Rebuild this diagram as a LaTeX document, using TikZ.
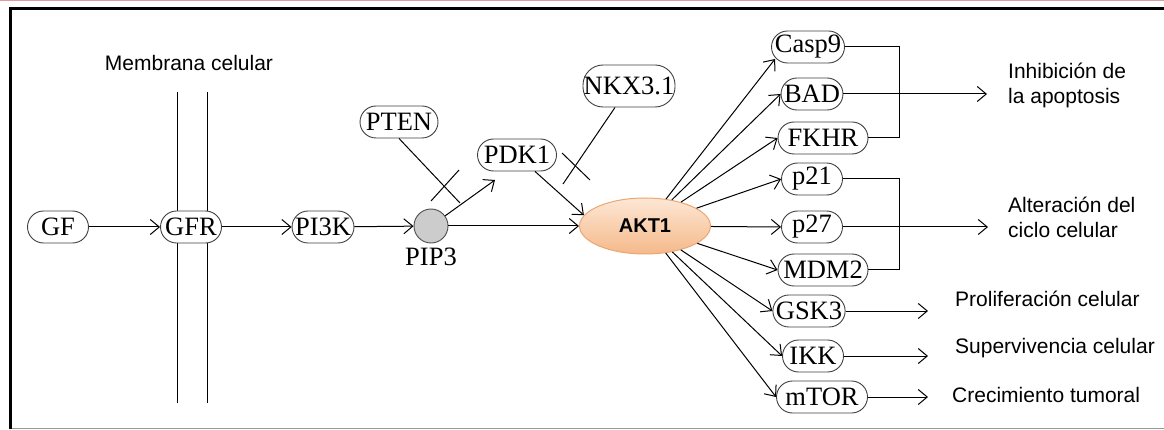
\documentclass[tikz,border=0pt]{standalone}
\usepackage{fontspec}
\setmainfont{Liberation Serif}
\newfontfamily\arialf{Liberation Sans}
\usepackage{tikz}
\usetikzlibrary{arrows.meta,positioning,calc,shapes.geometric}
\definecolor{aktlight}{HTML}{FDE7D5}
\definecolor{aktdark}{HTML}{F5B98A}
\definecolor{aktedge}{HTML}{EBA672}
\definecolor{frpink}{HTML}{E39A9A}
\newcommand{\pfs}{\fontsize{26.5}{28}\selectfont}
\newcommand{\lfs}{\arialf\fontsize{21}{25}\selectfont}

\begin{document}
\begin{tikzpicture}[x=1pt,y=-1pt,
  pr/.style={draw=black!75,fill=white,rounded corners=16pt,line width=0.9pt,minimum height=32pt,minimum width=61pt,inner xsep=3pt,inner ysep=0pt,font=\pfs},
  ar/.style={line width=1pt,-{Straight Barb[length=9pt,width=15pt]}},
  ln/.style={line width=1pt},
  lb/.style={font=\lfs,align=left,inner sep=0pt,anchor=west}
]
\useasboundingbox (0,0) rectangle (1164,430);
\draw[frpink,line width=1.5pt] (0,0.75) -- (1164,0.75);
\draw[line width=3pt] (10,429) -- (10,8.5) -- (1164,8.5);
\draw[black!40,line width=1.5pt] (11.5,428.5) -- (1164,428.5);

\draw[ln] (177,92) -- (177,403);
\draw[ln] (207,92) -- (207,403);
\node[font=\lfs] (memb) at (189,63) {Membrana celular};

\node[pr] (gf)   at (58,227)  {GF};
\node[pr] (gfr)  at (191,227) {GFR};
\node[pr] (pi3k) at (323,227) {PI3K};
\node[circle,draw=black!70,fill=black!20,minimum size=34pt,inner sep=0pt,line width=0.9pt] (pip3) at (431,226) {};
\node[font=\pfs,below=1pt of pip3] (pip3lb) {PIP3};
\node[pr,minimum width=78pt] (pten) at (399,122) {PTEN};
\node[pr,minimum width=79pt] (pdk1) at (517,155) {PDK1};
\node[pr,minimum width=92pt,minimum height=42pt,inner xsep=0pt,rounded corners=20pt] (nkx) at (629,86) {NKX3.1};
\node[ellipse,minimum width=131pt,minimum height=56pt,top color=aktlight,bottom color=aktdark,draw=aktedge,line width=1pt,font=\arialf\bfseries\fontsize{20}{23}\selectfont] (akt1) at (645,226) {AKT1};

\node[pr,minimum width=73pt] (casp9) at (808,47)  {Casp9};
\node[pr]                    (bad)   at (812,94)  {BAD};
\node[pr,minimum width=90pt] (fkhr)  at (823,138) {FKHR};
\node[pr]                    (p21)   at (812,179) {p21};
\node[pr]                    (p27)   at (812,227) {p27};
\node[pr,minimum width=90pt] (mdm2)  at (823,270) {MDM2};
\node[pr,minimum width=68pt] (gsk3)  at (809,311) {GSK3};
\node[pr]                    (ikk)   at (813,356) {IKK};
\node[pr,minimum width=91pt] (mtor)  at (822,397) {mTOR};

\node[lb] (apop) at (1008,85)  {Inhibición de\\la apoptosis};
\node[lb] (cyc)  at (1008,217) {Alteración del\\ciclo celular};
\node[lb] (prol) at (955,299)  {Proliferación celular};
\node[lb] (surv) at (955,348)  {Supervivencia celular};
\node[lb] (grow) at (952,395)  {Crecimiento tumoral};

\draw[ar] (gf) -- (gfr);
\draw[ar] (gfr) -- (pi3k);
\draw[ar] (pi3k) -- (pip3);
\draw[ar] (pip3) -- (akt1);
\coordinate (pdktip) at (495,180);
\draw[ar] (pip3) -- (pdktip);
\draw[ar] ([xshift=18pt]pdk1.south) -- (akt1.170);

\coordinate (ptenend) at (460,203);
\coordinate (ptx1) at (431,201);
\coordinate (ptx2) at (459,170);
\draw[ln] (pten.south) -- (ptenend);
\draw[ln] (ptx1) -- (ptx2);
\coordinate (nkxend) at (563,184);
\coordinate (nkx1) at (562,153);
\coordinate (nkx2) at (590,180);
\draw[ln] ([xshift=-14pt]nkx.south) -- (nkxend);
\draw[ln] (nkx1) -- (nkx2);

\draw[ar] (akt1) -- ([xshift=4pt,yshift=-12pt]casp9.west);
\foreach \t in {bad,fkhr,p21,p27,mdm2,gsk3,ikk,mtor}
  \draw[ar] (akt1) -- (\t.west);

\coordinate (brk) at (899,0);
\draw[ln] (casp9.east) -- (casp9.east -| brk) -- (fkhr.east -| brk) -- (fkhr.east);
\draw[ln] (p21.east) -- (p21.east -| brk) -- (mdm2.east -| brk) -- (mdm2.east);
\draw[ar,shorten >=21pt] (bad.east) -- (bad.east -| apop.west);
\draw[ar,shorten >=20pt] (p27.east) -- (p27.east -| cyc.west);
\draw[ar,shorten >=27pt] (gsk3.east) -- (gsk3.east -| prol.west);
\draw[ar,shorten >=27pt] (ikk.east) -- (ikk.east -| surv.west);
\draw[ar,shorten >=24pt] (mtor.east) -- (mtor.east -| grow.west);
\end{tikzpicture}
\end{document}
